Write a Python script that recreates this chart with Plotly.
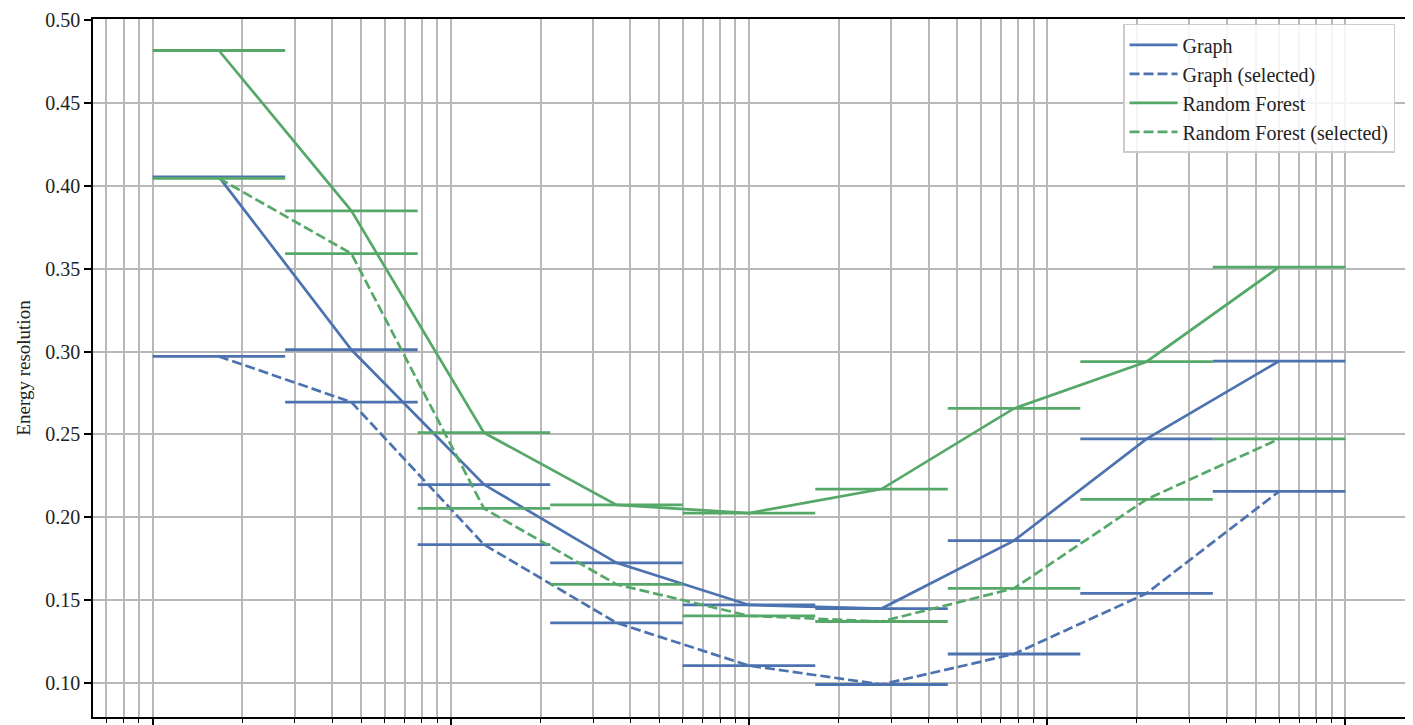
import numpy as np
import plotly.graph_objects as go

# Bin edges (log-spaced, x-axis tick labels are cropped in the reference)
bin_edges = [1.0, 2.7826, 7.7426, 21.544, 59.948, 166.81, 464.16, 1291.5, 3593.8, 10000.0]

graph = [0.4054, 0.3011, 0.2198, 0.1726, 0.1472, 0.1450, 0.1860, 0.2473, 0.2943]
graph_sel = [0.2971, 0.2695, 0.1836, 0.1364, 0.1106, 0.0992, 0.1176, 0.1542, 0.2157]
rf = [0.4816, 0.3849, 0.2511, 0.2075, 0.2026, 0.2171, 0.2657, 0.2939, 0.3509]
rf_sel = [0.4045, 0.3591, 0.2054, 0.1596, 0.1406, 0.1372, 0.1572, 0.2109, 0.2473]

series = [
    ("Graph", graph, "#4C72B0", "solid"),
    ("Graph (selected)", graph_sel, "#4C72B0", "10px,4px"),
    ("Random Forest", rf, "#55A868", "solid"),
    ("Random Forest (selected)", rf_sel, "#55A868", "10px,4px"),
]

edges = np.array(bin_edges)
lo = edges[:-1]
hi = edges[1:]
centers = np.sqrt(lo * hi)

FONT = "Liberation Serif, DejaVu Serif, serif"

fig = go.Figure()
for name, vals, color, dash in series:
    fig.add_trace(go.Scatter(
        x=centers, y=vals, name=name, mode="lines",
        line=dict(color=color, width=2.7, dash=dash),
        error_x=dict(type="data", symmetric=False,
                     array=hi - centers, arrayminus=centers - lo,
                     color=color, thickness=2.8, width=0),
    ))

fig.update_layout(
    width=1413, height=725,
    margin=dict(l=85, r=16, t=11, b=16),
    paper_bgcolor="white", plot_bgcolor="white",
    font=dict(family=FONT, size=22, color="#222222"),
    showlegend=True,
    legend=dict(
        x=0.9924, y=0.993, xanchor="right", yanchor="top",
        bgcolor="rgba(255,255,255,0.85)", bordercolor="#cccccc", borderwidth=1.5,
        font=dict(family=FONT, size=20, color="#222222"),
        tracegroupgap=0, itemwidth=48,
    ),
)

fig.update_xaxes(
    type="log", range=[-0.2, 4.2], dtick=1, automargin=False,
    showticklabels=False, ticks="outside", ticklen=7, tickwidth=1.5, tickcolor="black",
    showgrid=True, gridcolor="#b8b8b8", gridwidth=1.5,
    minor=dict(dtick="D1", ticks="outside", ticklen=4, tickwidth=1.2, tickcolor="black",
               showgrid=True, gridcolor="#b8b8b8", gridwidth=1.5),
    showline=True, linecolor="black", linewidth=1.5, mirror=True,
    zeroline=False,
)
fig.update_yaxes(
    range=[0.0796, 0.5006], dtick=0.05, tick0=0.1, tickformat=".2f", automargin=False,
    ticklabeloverflow="allow",
    ticks="outside", ticklen=7, tickwidth=1.5, tickcolor="black",
    tickfont=dict(family=FONT, size=20, color="#222222"),
    showgrid=True, gridcolor="#b8b8b8", gridwidth=1.5,
    showline=True, linecolor="black", linewidth=1.5, mirror=True,
    zeroline=False,
    title=dict(text="Energy resolution", font=dict(family=FONT, size=19, color="#222222"), standoff=10),
)

fig.write_html("out.html")
